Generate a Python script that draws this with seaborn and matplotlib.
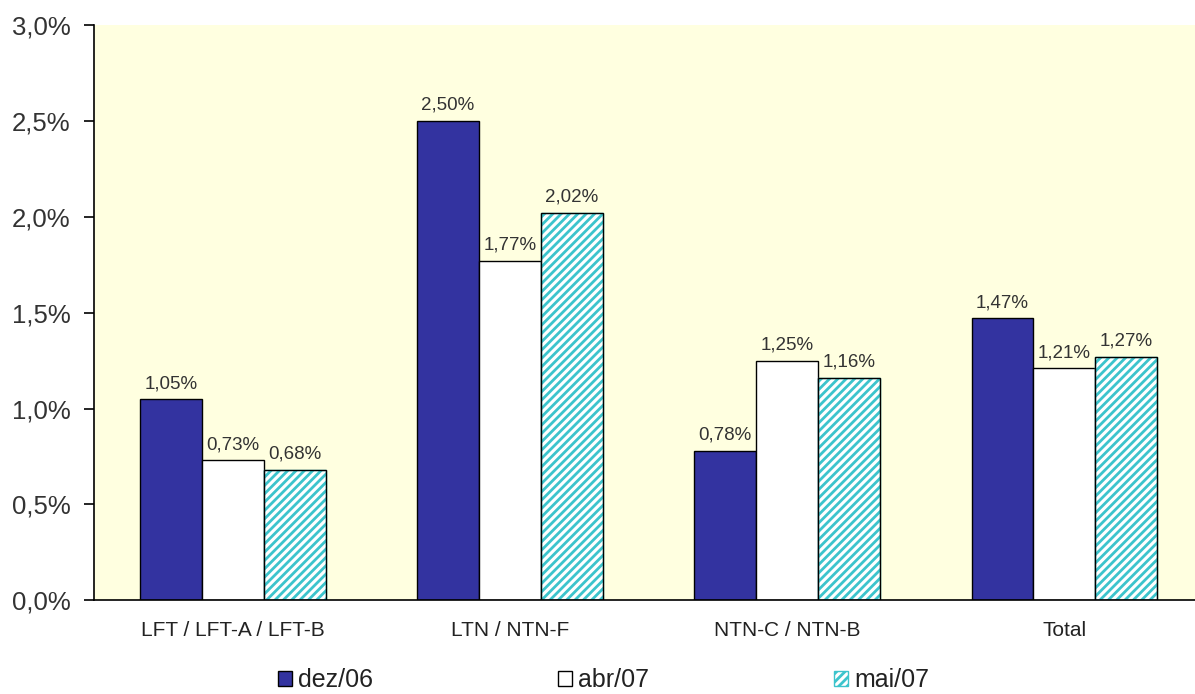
import matplotlib
matplotlib.use("Agg")
import matplotlib.pyplot as plt
import seaborn as sns
import pandas as pd
from matplotlib.ticker import FuncFormatter
from matplotlib.patches import Patch

categories = ["LFT / LFT-A / LFT-B", "LTN / NTN-F", "NTN-C / NTN-B", "Total"]
series = ["dez/06", "abr/07", "mai/07"]
dez06 = [1.05, 2.50, 0.78, 1.47]
abr07 = [0.73, 1.77, 1.25, 1.21]
mai07 = [0.68, 2.02, 1.16, 1.27]

rows = []
for s, vals in zip(series, [dez06, abr07, mai07]):
    for c, v in zip(categories, vals):
        rows.append({"cat": c, "serie": s, "val": v})
df = pd.DataFrame(rows)

sns.set_theme(style="white")
plt.rcParams["font.family"] = ["Liberation Sans", "DejaVu Sans"]
plt.rcParams["hatch.linewidth"] = 2.0

BLUE = "#3333A0"
CYAN = "#3CC4CC"

fig = plt.figure(figsize=(11.95, 6.94), dpi=100)
ax = fig.add_axes([0.0787, 0.135, 0.928, 0.829])
ax.set_facecolor("#FFFFE0")

colors = {"dez/06": BLUE, "abr/07": "#FFFFFF", "mai/07": "#FFFFFF"}
sns.barplot(data=df, x="cat", y="val", hue="serie", hue_order=series,
            order=categories, palette=colors, saturation=1, width=0.67, ax=ax,
            edgecolor="black", linewidth=1.0, legend=False, errorbar=None)

for cont, s in zip(ax.containers, series):
    for p in cont.patches:
        if s == "mai/07":
            p.set_hatch("////")
            p.set_edgecolor(CYAN)
            p.set_facecolor("white")
    labels = [f"{v:.2f}%".replace(".", ",") for v in cont.datavalues]
    ax.bar_label(cont, labels=labels, padding=5, fontsize=13.5, color="#333333")

# black outline for hatched bars
for p in ax.containers[2].patches:
    ax.add_patch(plt.Rectangle(p.get_xy(), p.get_width(), p.get_height(),
                               fill=False, edgecolor="black", linewidth=1.0))

ax.set_ylim(0, 3.0)
ax.set_yticks([0, 0.5, 1.0, 1.5, 2.0, 2.5, 3.0])
ax.yaxis.set_major_formatter(FuncFormatter(lambda v, p: f"{v:.1f}%".replace(".", ",")))
ax.tick_params(axis="y", direction="out", length=7, width=1.2, labelsize=18.5,
               left=True, pad=10, colors="black", labelcolor="#333333")
ax.tick_params(axis="x", length=0, labelsize=15, pad=15, labelcolor="#222222")
ax.set_xlabel("")
ax.set_ylabel("")
for side in ["top", "right"]:
    ax.spines[side].set_visible(False)
for side in ["left", "bottom"]:
    ax.spines[side].set_color("black")
    ax.spines[side].set_linewidth(1.2)

handles = [Patch(facecolor=BLUE, edgecolor="black"),
           Patch(facecolor="white", edgecolor="black"),
           Patch(facecolor="white", edgecolor=CYAN, hatch="////")]
fig.legend(handles, series, loc="lower center", bbox_to_anchor=(0.505, -0.03),
           ncol=3, frameon=False, fontsize=18, columnspacing=7.4,
           handlelength=0.55, handleheight=0.55, handletextpad=0.25,
           labelcolor="#222222")

fig.savefig("out.png", dpi=100)
